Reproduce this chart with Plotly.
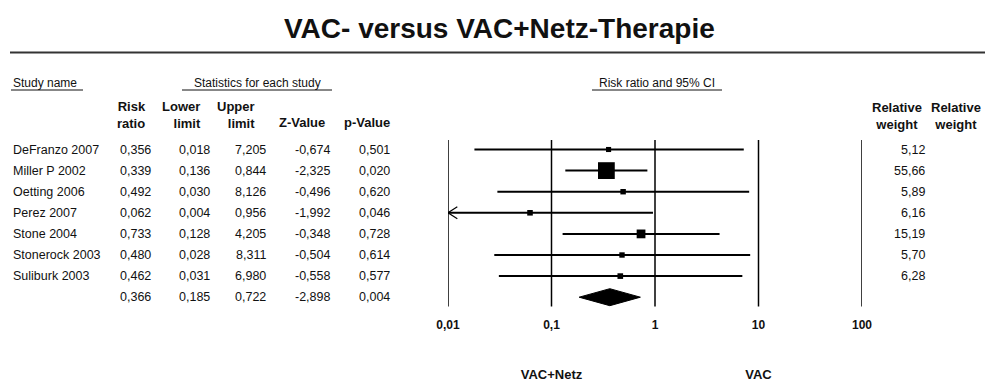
import math
import plotly.graph_objects as go

# ---- data -------------------------------------------------------------
studies = ["DeFranzo 2007", "Miller P 2002", "Oetting 2006", "Perez 2007",
           "Stone 2004", "Stonerock 2003", "Suliburk 2003"]
risk_ratio = [0.356, 0.339, 0.492, 0.062, 0.733, 0.480, 0.462]
lower_limit = [0.018, 0.136, 0.030, 0.004, 0.128, 0.028, 0.031]
upper_limit = [7.205, 0.844, 8.126, 0.956, 4.205, 8.311, 6.980]
z_value = [-0.674, -2.325, -0.496, -1.992, -0.348, -0.504, -0.558]
p_value = [0.501, 0.020, 0.620, 0.046, 0.728, 0.614, 0.577]
rel_weight = [5.12, 55.66, 5.89, 6.16, 15.19, 5.70, 6.28]

pooled_rr = 0.366
pooled_lower = 0.185
pooled_upper = 0.722
pooled_z = -2.898
pooled_p = 0.004

axis_ticks = [0.01, 0.1, 1, 10, 100]
axis_tick_text = ["0,01", "0,1", "1", "10", "100"]
favours = ["VAC+Netz", "VAC"]

# ---- layout helpers ----------------------------------------------------
W, H = 985, 383
ROW0, ROW_H = 149.5, 21.1          # pixel centre of first row, row pitch
FONT = "Liberation Sans, Arial, sans-serif"
X_MIN, X_MAX = 0.01, 100


def px(x):
    return x / W


def py(y):
    return 1 - y / H


def row_of(ypx):
    return (ypx - ROW0) / ROW_H


def fmt(v, nd=3):
    return f"{v:.{nd}f}".replace(".", ",")


fig = go.Figure()

# vertical reference lines of the forest plot
for t in axis_ticks:
    fig.add_trace(go.Scatter(x=[t, t], y=[row_of(140), row_of(306.5)], mode="lines",
                             line=dict(color="black", width=1.5),
                             hoverinfo="skip", showlegend=False))

# confidence intervals (clipped at the axis minimum, with an arrow)
for i, (lo, hi) in enumerate(zip(lower_limit, upper_limit)):
    lo_c = max(lo, X_MIN)
    hi_c = min(hi, X_MAX)
    fig.add_trace(go.Scatter(x=[lo_c, hi_c], y=[i, i], mode="lines",
                             line=dict(color="black", width=2),
                             hoverinfo="skip", showlegend=False))
    if lo < X_MIN:
        arm = X_MIN * 10 ** 0.09
        dy = 6 / ROW_H
        fig.add_trace(go.Scatter(x=[arm, X_MIN, arm], y=[i - dy, i, i + dy], mode="lines",
                                 line=dict(color="black", width=1.2),
                                 hoverinfo="skip", showlegend=False))

# point estimates, square area proportional to weight
fig.add_trace(go.Scatter(
    x=risk_ratio, y=list(range(len(studies))), mode="markers",
    marker=dict(symbol="square", color="black", opacity=1,
                size=[2.25 * math.sqrt(w) for w in rel_weight],
                line=dict(width=0)),
    opacity=1, hoverinfo="skip", showlegend=False))

# pooled estimate diamond
r_sum = len(studies)
hh = 8.5 / ROW_H
fig.add_trace(go.Scatter(
    x=[pooled_lower, pooled_rr, pooled_upper, pooled_rr, pooled_lower],
    y=[r_sum, r_sum - hh, r_sum, r_sum + hh, r_sum],
    mode="lines", fill="toself", fillcolor="black",
    line=dict(color="black", width=1), hoverinfo="skip", showlegend=False))

# axis labels below the plot
fig.add_trace(go.Scatter(
    x=axis_ticks, y=[row_of(326)] * len(axis_ticks), mode="text",
    text=[f"<b>{t}</b>" for t in axis_tick_text],
    textfont=dict(family=FONT, size=12, color="#111"),
    textposition="middle center", cliponaxis=False,
    hoverinfo="skip", showlegend=False))

fig.add_trace(go.Scatter(
    x=[0.1, 10], y=[row_of(375.5)] * 2, mode="text",
    text=[f"<b>{t}</b>" for t in favours],
    textfont=dict(family=FONT, size=13, color="#111"),
    textposition="middle center", cliponaxis=False,
    hoverinfo="skip", showlegend=False))

annotations = []


def note(text, x, y, xanchor="left", size=12.5, bold=False, yref="y", align="left"):
    annotations.append(dict(
        text=f"<b>{text}</b>" if bold else text,
        x=x, y=y, xref="paper", yref=yref,
        xanchor=xanchor, yanchor="middle", align=align,
        showarrow=False,
        font=dict(family=FONT, size=size, color="#111")))


# title
note("VAC- versus VAC+Netz-Therapie", px(500), py(28), xanchor="center",
     size=28, bold=True, yref="paper")

# section headings
note("Study name", px(11), py(83), yref="paper", size=12)
note("Statistics for each study", px(257), py(83), xanchor="center", yref="paper", size=12)
note("Risk ratio and 95% CI", px(657), py(83), xanchor="center", yref="paper", size=12)

# column headings
col_heads = ["Risk<br>ratio", "Lower<br>limit", "Upper<br>limit", "Z-Value", "p-Value"]
head_right = [148, 203, 257, 327, 392]
for h, xr in zip(col_heads, head_right):
    if "<br>" in h:
        note(h, px(xr), py(115), xanchor="right", size=13, bold=True,
             yref="paper", align="right")
    else:
        note(h, px(xr), py(122.5), xanchor="right", size=13, bold=True, yref="paper")

note("Relative<br>weight", px(897), py(115.5), xanchor="center", size=13, bold=True,
     yref="paper", align="center")
note("Relative<br>weight", px(983), py(115.5), xanchor="right", size=13, bold=True,
     yref="paper", align="center")

# table body
val_right = [153, 212, 268, 332, 392]
for i, name in enumerate(studies):
    note(name, px(11), i)
    vals = [fmt(risk_ratio[i]), fmt(lower_limit[i]), fmt(upper_limit[i]),
            fmt(z_value[i]), fmt(p_value[i])]
    for v, xr in zip(vals, val_right):
        note(v, px(xr), i, xanchor="right")
    note(fmt(rel_weight[i], 2), px(927), i, xanchor="right")

pooled_vals = [fmt(pooled_rr), fmt(pooled_lower), fmt(pooled_upper),
               fmt(pooled_z), fmt(pooled_p)]
for v, xr in zip(pooled_vals, val_right):
    note(v, px(xr), r_sum, xanchor="right")

shapes = [
    # rule under the title
    dict(type="line", xref="paper", yref="paper", x0=px(10), x1=1.0,
         y0=py(52.5), y1=py(52.5), line=dict(color="#333", width=2)),
    # heading underlines
    dict(type="line", xref="paper", yref="paper", x0=px(11), x1=px(83),
         y0=py(90), y1=py(90), line=dict(color="#111", width=1)),
    dict(type="line", xref="paper", yref="paper", x0=px(182), x1=px(332),
         y0=py(90), y1=py(90), line=dict(color="#111", width=1)),
    dict(type="line", xref="paper", yref="paper", x0=px(592), x1=px(722),
         y0=py(90), y1=py(90), line=dict(color="#111", width=1)),
]

fig.update_layout(
    width=W, height=H,
    margin=dict(l=0, r=0, t=0, b=0),
    paper_bgcolor="white", plot_bgcolor="white",
    xaxis=dict(type="log", range=[math.log10(X_MIN), math.log10(X_MAX)],
               domain=[px(448), px(862)], visible=False, fixedrange=True),
    yaxis=dict(range=[row_of(H), row_of(0)], domain=[0, 1],
               visible=False, fixedrange=True),
    annotations=annotations,
    shapes=shapes,
    showlegend=False,
)

fig.write_html("out.html", config={"displayModeBar": False})
